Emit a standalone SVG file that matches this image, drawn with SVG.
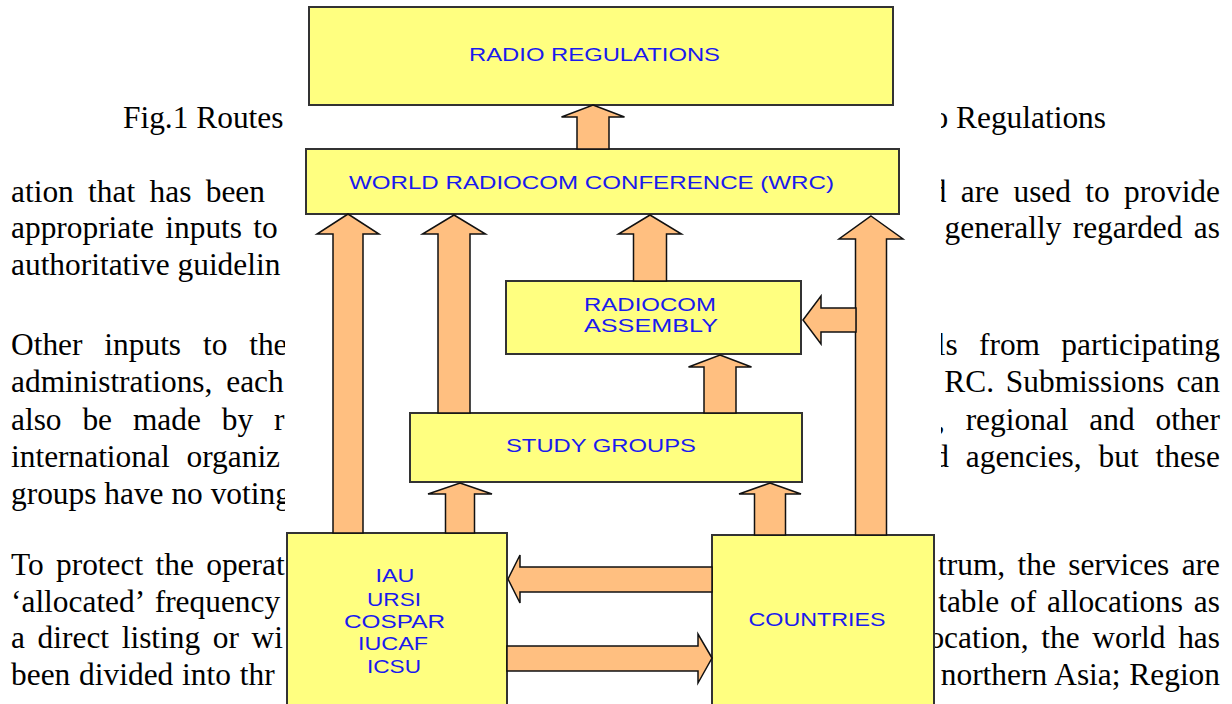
<svg xmlns="http://www.w3.org/2000/svg" width="1232" height="704" viewBox="0 0 1232 704">
<style>
.bt{font-family:"Liberation Serif","Times New Roman",serif;font-size:31.4px;fill:#000}
.r{text-anchor:end}
.box{fill:#ffff80;stroke:#333;stroke-width:2}
.arr{fill:#ffbf80;stroke:#111;stroke-width:1.5}
.lbl{font-family:"Liberation Sans",Arial,sans-serif;font-size:19px;fill:#1a1aee;text-anchor:middle}
</style>
<rect width="1232" height="704" fill="#fff"/>
<g id="page-text">
<text class="bt" x="123" y="128">Fig.1 Routes</text>
<text class="bt r" x="1106" y="128">o Regulations</text>
<text class="bt" x="11" y="202" word-spacing="6.5">ation that has been</text>
<text class="bt r" x="1220" y="202" word-spacing="6.5">d are used to provide</text>
<text class="bt" x="11" y="238" word-spacing="3.5">appropriate inputs to</text>
<text class="bt r" x="1220" y="238" word-spacing="3.5">generally regarded as</text>
<text class="bt" x="11" y="275">authoritative guidelin</text>
<text class="bt" x="11" y="355" word-spacing="14">Other inputs to the</text>
<text class="bt r" x="1220" y="355" word-spacing="13.5">ls from participating</text>
<text class="bt" x="11" y="392" word-spacing="6">administrations, each</text>
<text class="bt r" x="1220" y="392" word-spacing="4">RC. Submissions can</text>
<text class="bt" x="11" y="429.5" word-spacing="13">also be made by r</text>
<text class="bt r" x="1220" y="429.5" word-spacing="13">, regional and other</text>
<text class="bt" x="11" y="466.5" word-spacing="9">international organiz</text>
<text class="bt r" x="1220" y="466.5" word-spacing="9">d agencies, but these</text>
<text class="bt" x="11" y="503.5">groups have no voting</text>
<text class="bt" x="11" y="575" word-spacing="4.5">To protect the operat</text>
<text class="bt r" x="1220" y="575" word-spacing="4.5">trum, the services are</text>
<text class="bt" x="11" y="611.5" word-spacing="4">‘allocated’ frequency</text>
<text class="bt r" x="1220" y="611.5" word-spacing="3">table of allocations as</text>
<text class="bt" x="11" y="648" word-spacing="4.8">a direct listing or wi</text>
<text class="bt r" x="1220" y="648" word-spacing="4.8">ocation, the world has</text>
<text class="bt" x="11" y="685" word-spacing="1">been divided into thr</text>
<text class="bt r" x="1220" y="685" word-spacing="1">northern Asia; Region</text>
</g>
<path d="M285,0 H941 V520 H935 V704 H285 Z" fill="#fff"/>
<g id="node-radio-regulations">
<rect class="box" x="309" y="7" width="584" height="98"/>
<text class="lbl" x="594.5" y="61" textLength="251" lengthAdjust="spacingAndGlyphs">RADIO REGULATIONS</text>
</g>
<g id="node-wrc">
<rect class="box" x="306" y="149" width="593" height="65"/>
<text class="lbl" x="591.5" y="189" textLength="485" lengthAdjust="spacingAndGlyphs">WORLD RADIOCOM CONFERENCE (WRC)</text>
</g>
<g id="node-radiocom-assembly">
<rect class="box" x="506" y="281" width="295" height="73"/>
<text class="lbl" x="650" y="311" textLength="132" lengthAdjust="spacingAndGlyphs">RADIOCOM</text>
<text class="lbl" x="651" y="332" textLength="134" lengthAdjust="spacingAndGlyphs">ASSEMBLY</text>
</g>
<g id="node-study-groups">
<rect class="box" x="410" y="413" width="392" height="69"/>
<text class="lbl" x="601" y="452" textLength="190" lengthAdjust="spacingAndGlyphs">STUDY GROUPS</text>
</g>
<g id="node-iau">
<rect class="box" x="287" y="533" width="220" height="180"/>
<text class="lbl" x="395" y="582" textLength="39" lengthAdjust="spacingAndGlyphs">IAU</text>
<text class="lbl" x="394" y="606" textLength="54" lengthAdjust="spacingAndGlyphs">URSI</text>
<text class="lbl" x="394.5" y="628" textLength="101" lengthAdjust="spacingAndGlyphs">COSPAR</text>
<text class="lbl" x="393" y="650" textLength="70" lengthAdjust="spacingAndGlyphs">IUCAF</text>
<text class="lbl" x="394" y="673" textLength="54" lengthAdjust="spacingAndGlyphs">ICSU</text>
</g>
<g id="node-countries">
<rect class="box" x="712" y="535" width="222" height="180"/>
<text class="lbl" x="817" y="626" textLength="137" lengthAdjust="spacingAndGlyphs">COUNTRIES</text>
</g>
<g id="connectors">
<path class="arr" d="M593,105 L624.5,117 L609,117 L609,149 L577,149 L577,117 L561.5,117 Z"/>
<path class="arr" d="M348,214 L379,234 L363,234 L363,533 L333,533 L333,234 L317,234 Z"/>
<path class="arr" d="M454,215 L485.5,234 L470,234 L470,413 L438,413 L438,234 L422.5,234 Z"/>
<path class="arr" d="M650,215 L681.5,234 L666.5,234 L666.5,281 L633.5,281 L633.5,234 L618.5,234 Z"/>
<path class="arr" d="M871,216 L903,239 L886.5,239 L886.5,535 L855.5,535 L855.5,239 L839,239 Z"/>
<path class="arr" d="M720,355 L751.5,367 L736,367 L736,413 L704,413 L704,367 L688.5,367 Z"/>
<path class="arr" d="M460,483 L492,494 L474.5,494 L474.5,533 L445.5,533 L445.5,494 L428,494 Z"/>
<path class="arr" d="M770,483 L801,494 L785.5,494 L785.5,535 L754.5,535 L754.5,494 L739,494 Z"/>
<path class="arr" d="M803,320 L821,296 L821,308 L856,308 L856,332 L821,332 L821,344 Z"/>
<path class="arr" d="M508,579 L520,555 L520,567 L712,567 L712,592 L520,592 L520,603 Z"/>
<path class="arr" d="M712,658 L698,634 L698,646 L507,646 L507,671 L698,671 L698,683 Z"/>
</g>
</svg>
